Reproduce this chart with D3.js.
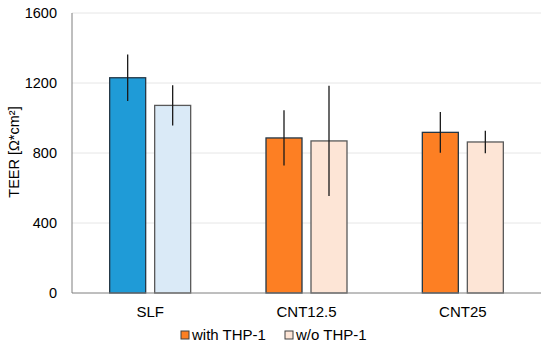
<!DOCTYPE html>
<html>
<head>
<meta charset="utf-8">
<script src="https://cdn.jsdelivr.net/npm/d3@7"></script>
<style>
  body { margin: 0; background: #fff; }
  svg text { font-family: "Liberation Sans", Arial, sans-serif; fill: #000; }
</style>
</head>
<body>
<svg class="chart" width="550" height="346"></svg>
<script>
var categories = ["SLF", "CNT12.5", "CNT25"];
var series = ["with THP-1", "w/o THP-1"];
var with_vals = [1230, 886, 918];
var with_err = [133, 158, 116];
var wo_vals = [1072, 869, 863];
var wo_err = [115, 315, 64];
var y_ticks = [0, 400, 800, 1200, 1600];

// fill / stroke per category and series
var fill_with = ["#1f9bd7", "#fd7f23", "#fd7f23"];
var fill_wo = ["#daeaf7", "#fde5d6", "#fde5d6"];
var stroke_with = "#243746";
var stroke_wo = "#595959";

var svg = d3.select(".chart");

var m_left = 72, m_right = 541, m_top = 13, m_bottom = 293;

var x = d3.scaleBand().domain(categories).range([m_left, m_right]);
var y = d3.scaleLinear().domain([0, 1600]).range([m_bottom, m_top]);

var barW = 36, gap = 9;

// grid
svg.append("g")
  .selectAll("line")
  .data(y_ticks.filter(function(d) { return d > 0; }))
  .enter().append("line")
  .attr("x1", m_left).attr("x2", m_right)
  .attr("y1", function(d) { return y(d); })
  .attr("y2", function(d) { return y(d); })
  .attr("stroke", "#e6e6e6")
  .attr("stroke-width", 1);

// y tick labels
svg.append("g")
  .selectAll("text")
  .data(y_ticks)
  .enter().append("text")
  .attr("x", 57)
  .attr("y", function(d) { return y(d) + 5; })
  .attr("text-anchor", "end")
  .attr("font-size", 14.5)
  .text(function(d) { return d; });

// y title
svg.append("text")
  .attr("transform", "translate(19,152) rotate(-90)")
  .attr("text-anchor", "middle")
  .attr("font-size", 14.5)
  .text("TEER [Ω*cm²]");

var rows = categories.map(function(c, i) {
  return [
    {cat: c, v: with_vals[i], e: with_err[i], off: 0, fill: fill_with[i], stroke: stroke_with},
    {cat: c, v: wo_vals[i], e: wo_err[i], off: barW + gap, fill: fill_wo[i], stroke: stroke_wo}
  ];
});
var bars = d3.merge(rows);

function bx(d) {
  return x(d.cat) + x.bandwidth() / 2 - (barW * 2 + gap) / 2 + d.off;
}

svg.append("g")
  .selectAll("rect")
  .data(bars)
  .enter().append("rect")
  .attr("x", function(d) { return bx(d); })
  .attr("y", function(d) { return y(d.v); })
  .attr("width", barW)
  .attr("height", function(d) { return y(0) - y(d.v); })
  .attr("fill", function(d) { return d.fill; })
  .attr("stroke", function(d) { return d.stroke; })
  .attr("stroke-width", 1.3);

// error bars
svg.append("g")
  .selectAll("line")
  .data(bars)
  .enter().append("line")
  .attr("x1", function(d) { return bx(d) + barW / 2; })
  .attr("x2", function(d) { return bx(d) + barW / 2; })
  .attr("y1", function(d) { return y(d.v - d.e); })
  .attr("y2", function(d) { return y(d.v + d.e); })
  .attr("stroke", "#1a1a1a")
  .attr("stroke-width", 1.3);

// axes lines
svg.append("line")
  .attr("x1", m_left).attr("x2", m_left)
  .attr("y1", m_top).attr("y2", m_bottom)
  .attr("stroke", "#7f7f7f");
svg.append("line")
  .attr("x1", m_left).attr("x2", m_right)
  .attr("y1", m_bottom).attr("y2", m_bottom)
  .attr("stroke", "#7f7f7f");

// category labels
svg.append("g")
  .selectAll("text")
  .data(categories)
  .enter().append("text")
  .attr("x", function(d) { return x(d) + x.bandwidth() / 2; })
  .attr("y", 317)
  .attr("text-anchor", "middle")
  .attr("font-size", 15)
  .text(function(d) { return d; });

// legend
var legend_fill = ["#fd7f23", "#fde5d6"];
var legend_x = [181, 285];
var lg = svg.append("g")
  .selectAll("g")
  .data(series)
  .enter().append("g")
  .attr("transform", function(d, i) { return "translate(" + legend_x[i] + ",331)"; });
lg.append("rect")
  .attr("width", 8).attr("height", 8)
  .attr("fill", function(d, i) { return legend_fill[i]; })
  .attr("stroke", "#404040")
  .attr("stroke-width", 1);
lg.append("text")
  .attr("x", 11)
  .attr("y", 8.5)
  .attr("font-size", 15)
  .text(function(d) { return d; });
</script>
</body>
</html>
